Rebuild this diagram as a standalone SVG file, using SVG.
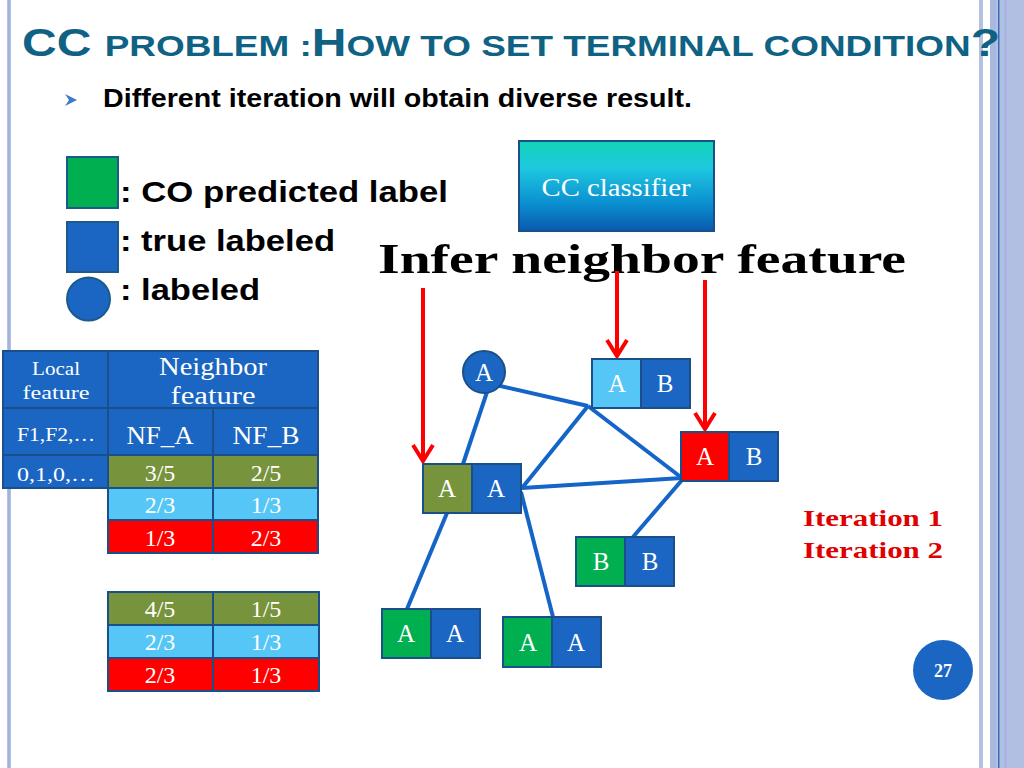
<svg xmlns="http://www.w3.org/2000/svg" width="1024" height="768" viewBox="0 0 1024 768">
<defs>
<linearGradient id="ccg" x1="0" y1="0" x2="0" y2="1">
<stop offset="0" stop-color="#12d4b4"/>
<stop offset="0.3" stop-color="#1ec8e0"/>
<stop offset="0.7" stop-color="#0a8ed0"/>
<stop offset="1" stop-color="#0a5aac"/>
</linearGradient>
<marker id="chev" viewBox="0 0 20 24" refX="18" refY="12" markerWidth="20" markerHeight="24" markerUnits="userSpaceOnUse" orient="auto">
<path d="M2,2 L18,12 L2,22" fill="none" stroke="#ff0000" stroke-width="4"/>
</marker>
<style>
.sans{font-family:"Liberation Sans",Arial,sans-serif;font-weight:bold}
.serif{font-family:"Liberation Serif","Times New Roman",serif}
.cell{stroke:#1b4f8a;stroke-width:2}
.db{fill:#1a66c2}
.gr{fill:#00b050}
.ol{fill:#77933c}
.lb{fill:#55c6f6}
.rd{fill:#ff0000}
.wt{fill:#ffffff;text-anchor:middle;font-family:"Liberation Serif","Times New Roman",serif}
.edge{stroke:#1565c8;stroke-width:4;fill:none}
.arrow{stroke:#ff0000;stroke-width:4;fill:none}
</style>
</defs>
<rect width="1024" height="768" fill="#ffffff"/>
<!-- borders -->
<rect x="7" y="0" width="4" height="768" fill="#b4c2e2"/>
<rect x="8.5" y="0" width="1" height="768" fill="#8fa6d6"/>
<rect x="979" y="0" width="4" height="768" fill="#b4c2e2"/>
<rect x="990" y="0" width="34" height="768" fill="#b0bfe2"/>
<rect x="990" y="0" width="6" height="768" fill="#a8b8df"/>
<rect x="998" y="0" width="1.5" height="768" fill="#3a6fb8"/>
<rect x="1004" y="0" width="3" height="768" fill="#a6b6de"/>

<!-- title -->
<text class="sans" x="22" y="56" fill="#0f6283" textLength="978" lengthAdjust="spacingAndGlyphs"><tspan font-size="39">CC </tspan><tspan font-size="30">PROBLEM :</tspan><tspan font-size="39">H</tspan><tspan font-size="30">OW TO SET TERMINAL CONDITION</tspan><tspan font-size="39">?</tspan></text>
<path d="M65,94 L77,100 L65,106 L69,100 Z" fill="#3a7cc8"/>
<text class="sans" x="103" y="107" font-size="25" fill="#000" textLength="589" lengthAdjust="spacingAndGlyphs">Different iteration will obtain diverse result.</text>

<!-- legend -->
<g id="legend">
<rect x="67" y="157" width="51" height="51" fill="#00b050" stroke="#1b5a8a" stroke-width="2"/>
<rect x="67" y="222" width="51" height="50" fill="#1a66c2" stroke="#1b5a8a" stroke-width="2"/>
<circle cx="88.5" cy="299" r="21.5" fill="#1a66c2" stroke="#1b5a8a" stroke-width="2"/>
<text class="sans" x="120" y="202" font-size="30" fill="#000" textLength="328" lengthAdjust="spacingAndGlyphs">: CO predicted label</text>
<text class="sans" x="120" y="251" font-size="30" fill="#000" textLength="215" lengthAdjust="spacingAndGlyphs">: true labeled</text>
<text class="sans" x="120" y="300" font-size="30" fill="#000" textLength="140" lengthAdjust="spacingAndGlyphs">: labeled</text>
</g>

<!-- CC classifier -->
<g id="cc-classifier">
<rect x="519" y="141" width="195" height="90" fill="url(#ccg)" stroke="#1b4f8a" stroke-width="2"/>
<text class="wt" x="616" y="196" font-size="25" textLength="149" lengthAdjust="spacingAndGlyphs">CC classifier</text>
</g>
<text class="serif" x="378" y="273" font-size="42" font-weight="bold" fill="#000" textLength="528" lengthAdjust="spacingAndGlyphs">Infer neighbor feature</text>

<!-- table 1 -->
<g id="table1">
<rect class="cell db" x="3" y="351" width="105" height="57"/>
<rect class="cell db" x="108" y="351" width="210" height="57"/>
<rect class="cell db" x="3" y="408" width="105" height="47"/>
<rect class="cell db" x="108" y="408" width="105" height="47"/>
<rect class="cell db" x="213" y="408" width="105" height="47"/>
<rect class="cell db" x="3" y="455" width="105" height="33"/>
<rect class="cell ol" x="108" y="455" width="105" height="33"/>
<rect class="cell ol" x="213" y="455" width="105" height="33"/>
<rect class="cell lb" x="108" y="488" width="105" height="32"/>
<rect class="cell lb" x="213" y="488" width="105" height="32"/>
<rect class="cell rd" x="108" y="520" width="105" height="33"/>
<rect class="cell rd" x="213" y="520" width="105" height="33"/>
<text class="wt" x="56" y="375" font-size="18" textLength="48" lengthAdjust="spacingAndGlyphs">Local</text>
<text class="wt" x="56" y="399" font-size="18" textLength="67" lengthAdjust="spacingAndGlyphs">feature</text>
<text class="wt" x="213" y="375" font-size="25" textLength="108" lengthAdjust="spacingAndGlyphs">Neighbor</text>
<text class="wt" x="213" y="404" font-size="25" textLength="85" lengthAdjust="spacingAndGlyphs">feature</text>
<text class="wt" x="56" y="441" font-size="18" textLength="78" lengthAdjust="spacingAndGlyphs">F1,F2,…</text>
<text class="wt" x="160" y="444" font-size="26" textLength="67" lengthAdjust="spacingAndGlyphs">NF_A</text>
<text class="wt" x="266" y="444" font-size="26" textLength="67" lengthAdjust="spacingAndGlyphs">NF_B</text>
<text class="wt" x="56" y="481" font-size="18" textLength="78" lengthAdjust="spacingAndGlyphs">0,1,0,…</text>
<text class="wt" x="160" y="481" font-size="24">3/5</text>
<text class="wt" x="266" y="481" font-size="24">2/5</text>
<text class="wt" x="160" y="513" font-size="24">2/3</text>
<text class="wt" x="266" y="513" font-size="24">1/3</text>
<text class="wt" x="160" y="546" font-size="24">1/3</text>
<text class="wt" x="266" y="546" font-size="24">2/3</text>
</g>

<!-- table 2 -->
<g id="table2">
<rect class="cell ol" x="108" y="592" width="105" height="33"/>
<rect class="cell ol" x="213" y="592" width="106" height="33"/>
<rect class="cell lb" x="108" y="625" width="105" height="33"/>
<rect class="cell lb" x="213" y="625" width="106" height="33"/>
<rect class="cell rd" x="108" y="658" width="105" height="33"/>
<rect class="cell rd" x="213" y="658" width="106" height="33"/>
<text class="wt" x="160" y="617" font-size="24">4/5</text>
<text class="wt" x="266" y="617" font-size="24">1/5</text>
<text class="wt" x="160" y="650" font-size="24">2/3</text>
<text class="wt" x="266" y="650" font-size="24">1/3</text>
<text class="wt" x="160" y="683" font-size="24">2/3</text>
<text class="wt" x="266" y="683" font-size="24">1/3</text>
</g>

<!-- connectors -->
<g id="connectors">
<line class="edge" x1="496" y1="385" x2="588" y2="406"/>
<line class="edge" x1="487" y1="392" x2="463" y2="464"/>
<line class="edge" x1="588" y1="406" x2="522" y2="488"/>
<line class="edge" x1="588" y1="406" x2="682" y2="478"/>
<line class="edge" x1="522" y1="488" x2="682" y2="478"/>
<line class="edge" x1="682" y1="480" x2="633" y2="537"/>
<line class="edge" x1="447" y1="513" x2="407" y2="609"/>
<line class="edge" x1="521" y1="492" x2="553" y2="617"/>
<line class="arrow" x1="423" y1="288" x2="423" y2="461" marker-end="url(#chev)"/>
<line class="arrow" x1="617" y1="271" x2="617" y2="356" marker-end="url(#chev)"/>
<line class="arrow" x1="705" y1="280" x2="705" y2="429" marker-end="url(#chev)"/>
</g>

<!-- nodes -->
<g id="node-circle">
<circle cx="484" cy="372" r="21" fill="#1a66c2" stroke="#1b4f8a" stroke-width="2"/>
<text class="wt" x="484" y="381" font-size="25">A</text>
</g>
<g id="node-top">
<rect class="cell lb" x="592" y="359" width="49" height="49"/>
<rect class="cell db" x="641" y="359" width="49" height="49"/>
<text class="wt" x="617" y="392" font-size="25">A</text>
<text class="wt" x="665" y="392" font-size="25">B</text>
</g>
<g id="node-red">
<rect class="cell rd" x="681" y="432" width="48" height="49"/>
<rect class="cell db" x="729" y="432" width="49" height="49"/>
<text class="wt" x="705" y="465" font-size="25">A</text>
<text class="wt" x="754" y="465" font-size="25">B</text>
</g>
<g id="node-olive">
<rect class="cell ol" x="423" y="464" width="49" height="49"/>
<rect class="cell db" x="472" y="464" width="49" height="49"/>
<text class="wt" x="447" y="497" font-size="25">A</text>
<text class="wt" x="496" y="497" font-size="25">A</text>
</g>
<g id="node-bb">
<rect class="cell gr" x="576" y="537" width="49" height="49"/>
<rect class="cell db" x="625" y="537" width="49" height="49"/>
<text class="wt" x="601" y="570" font-size="25">B</text>
<text class="wt" x="650" y="570" font-size="25">B</text>
</g>
<g id="node-bl">
<rect class="cell gr" x="382" y="609" width="49" height="49"/>
<rect class="cell db" x="431" y="609" width="49" height="49"/>
<text class="wt" x="406" y="642" font-size="25">A</text>
<text class="wt" x="455" y="642" font-size="25">A</text>
</g>
<g id="node-bm">
<rect class="cell gr" x="503" y="617" width="49" height="50"/>
<rect class="cell db" x="552" y="617" width="49" height="50"/>
<text class="wt" x="528" y="651" font-size="25">A</text>
<text class="wt" x="576" y="651" font-size="25">A</text>
</g>

<!-- iteration labels -->
<text class="serif" x="803" y="526" font-size="23" font-weight="bold" fill="#e00000" textLength="140" lengthAdjust="spacingAndGlyphs">Iteration 1</text>
<text class="serif" x="803" y="558" font-size="23" font-weight="bold" fill="#e00000" textLength="140" lengthAdjust="spacingAndGlyphs">Iteration 2</text>

<!-- page number -->
<circle cx="943" cy="670" r="30" fill="#1a66c2"/>
<text class="wt" x="943" y="677" font-size="18" font-weight="bold">27</text>
</svg>
